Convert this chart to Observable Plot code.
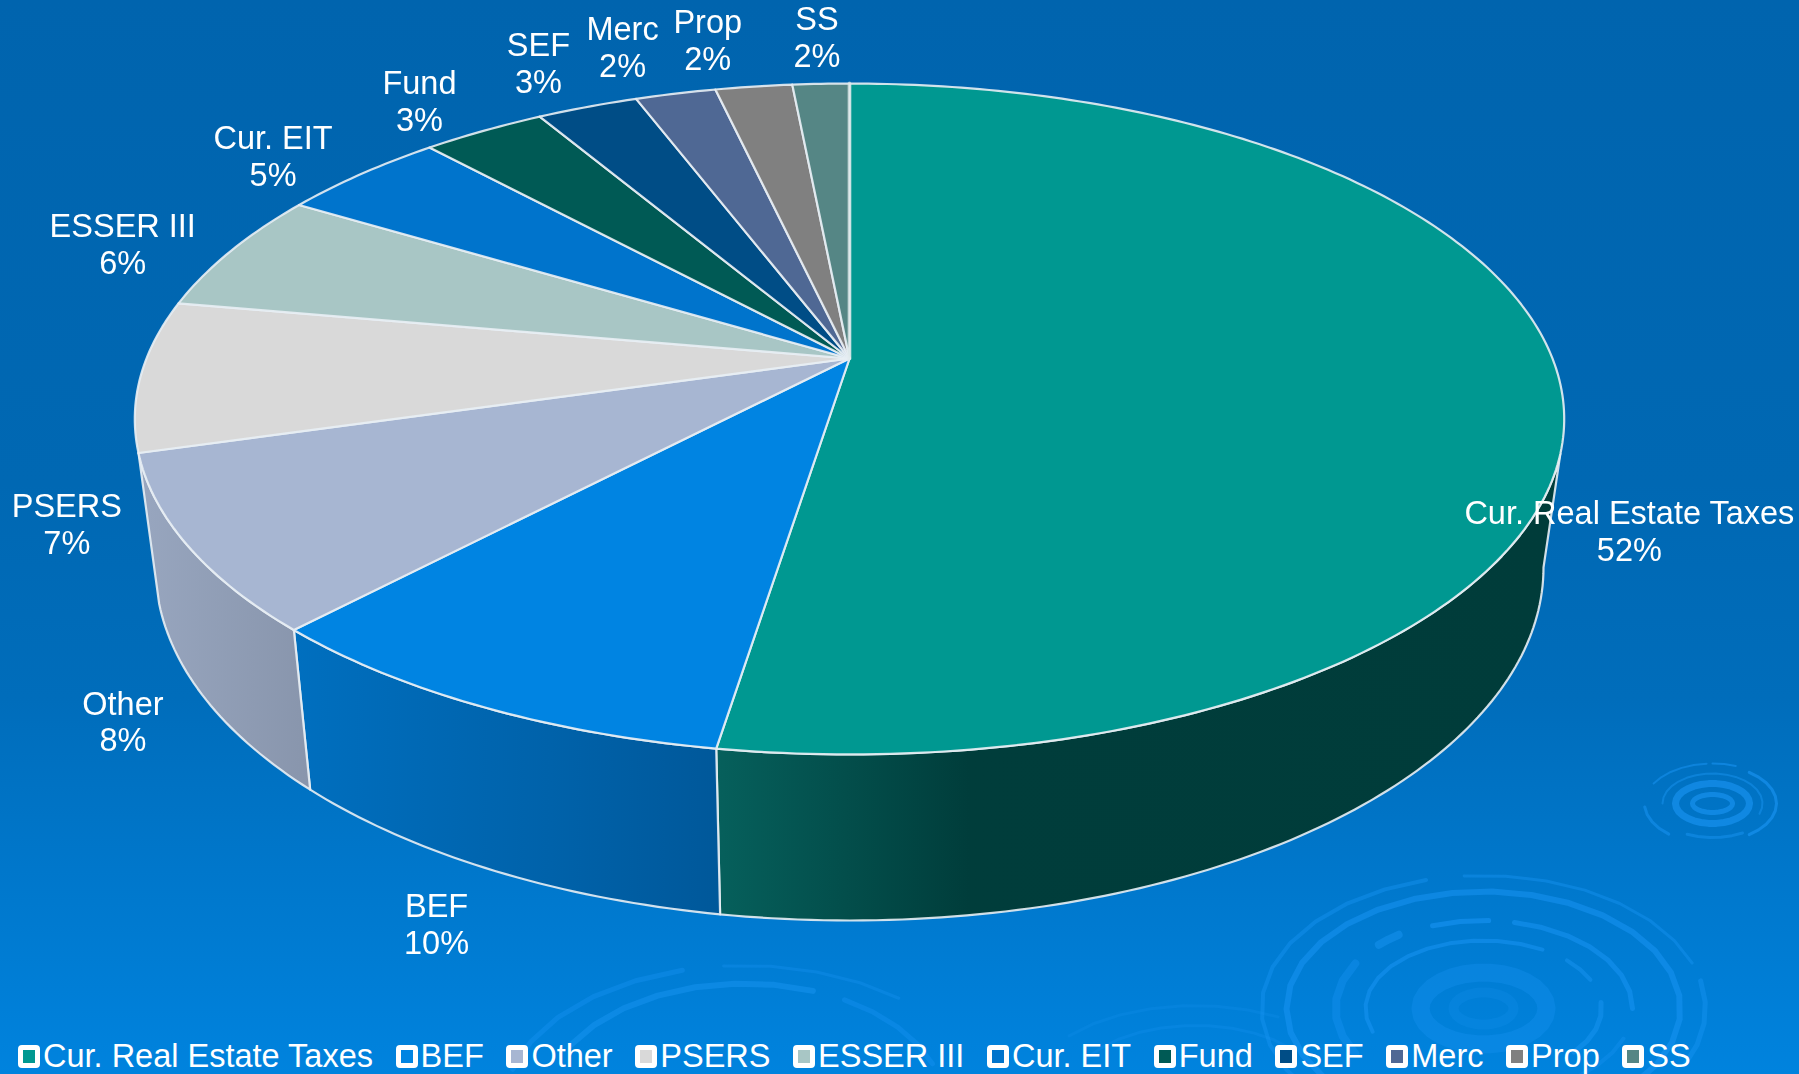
<!DOCTYPE html>
<html>
<head>
<meta charset="utf-8">
<script src="https://cdn.jsdelivr.net/npm/d3@7"></script>
<script src="https://cdn.jsdelivr.net/npm/@observablehq/plot@0.6"></script>
<style>
  html, body { margin: 0; padding: 0; background: #0070c0; }
  #wrap { position: relative; width: 1799px; height: 1074px; overflow: hidden; }
  #wrap svg { filter: blur(0.4px); }
  #legend { position: absolute; left: 18px; top: 1038px; display: flex; align-items: center; height: 36px;
    font: 32.5px "Liberation Sans", Arial, sans-serif; color: #fff; white-space: nowrap; }
  #legend .item { display: flex; align-items: center; margin-right: 22.6px; }
  #legend .sw { width: 12px; height: 13px; border: 5px solid #fff; border-radius: 4px; margin-right: 3px; }
</style>
</head>
<body>
<div id="wrap"></div>
<svg width="0" height="0" style="position:absolute">
  <defs id="grads"></defs>
</svg>
<script>
const categories = ["Cur. Real Estate Taxes","BEF","Other","PSERS","ESSER III","Cur. EIT","Fund","SEF","Merc","Prop","SS"];
const shares = [52.49, 9.56, 8.49, 7.26, 5.85, 4.52, 3.33, 2.73, 2.17, 2.07, 1.53];
const colors = ["#009891","#0084e2","#a7b6d2","#d9d9d9","#a8c6c5","#0074cc","#005a55","#004d86","#4f6894","#808080","#558685"];
const sideStops = [
  [[0,"#06605c"],[0.3,"#003d3b"],[1,"#003c3a"]],
  [[0,"#006fbf"],[0.6,"#0062aa"],[1,"#00589a"]],
  [[0,"#98a6bf"],[1,"#8895ac"]]
];
const labelOffsets = [[69,148],[-43,219],[-64,178],[-74,150],[-108,-6],[-88,-17],[-64,-29],[-49,-43],[-53,-45],[-46,-45],[-4,-46]];

// Projection of the tilted disc
const apex = {x: 849, y: 358}, persp = 0.1803, spanY = 260, spanX = 703;
const topEll = {cx: 849, cy: 418, rx: 715, ry: 336};
const botEll = {cx: 849, cy: 567, rx: 694, ry: 353};
function rim(t) {
  const a = t / 100 * 2 * Math.PI, u = Math.sin(a), v = -Math.cos(a), w = 1 - persp * v;
  return {x: apex.x + spanX * u / w, y: (apex.y + spanY * v) / w};
}
function lower(p) {
  const phi = Math.atan2((p.y - topEll.cy) / topEll.ry, (p.x - topEll.cx) / topEll.rx);
  return {x: botEll.cx + botEll.rx * Math.cos(phi), y: botEll.cy + botEll.ry * Math.sin(phi), s: Math.sin(phi)};
}
const cum = [];
shares.reduce((acc, s, i) => (cum[i] = [acc, acc + s], acc + s), 0);

const wedges = [];
const sides = [[], [], []];
categories.forEach((name, i) => {
  const [a, b] = cum[i];
  const n = Math.max(8, Math.ceil((b - a) * 4));
  const arc = d3.range(n + 1).map(k => rim(a + (b - a) * k / n));
  const poly = [apex, ...arc, apex];
  poly.forEach(p => wedges.push({name, x: p.x, y: p.y}));
  if (i < 3) {
    const vis = arc.filter(p => lower(p).s >= 0.095);
    const back = vis.slice().reverse().map(lower);
    // the far-right silhouette runs on along the lower rim before it meets the top rim
    const tail = i === 0
      ? d3.range(1, 7).map(k => {
          const phi = Math.asin(back[back.length - 1].s) * (1 - k / 6);
          return {x: botEll.cx + botEll.rx * Math.cos(phi), y: botEll.cy + botEll.ry * Math.sin(phi)};
        })
      : [];
    [...vis, ...back, ...tail, vis[0]].forEach(p => sides[i].push({x: p.x, y: p.y}));
  }
});
const labels = categories.map((name, i) => {
  const m = rim((cum[i][0] + cum[i][1]) / 2);
  return {text: `${name}\n${Math.round(shares[i])}%`, x: m.x + labelOffsets[i][0], y: m.y + labelOffsets[i][1] - 1.5};
});
const seam = [apex, rim(0)];

// Decorative water ripples of the slide background
const ripples = [
  // cx, cy, rx, ry, from°, to°, width, opacity
  [1483,1008,222,133,-95,-20,3,.4],[1483,1008,222,133,-230,-105,4,.4],[1483,1008,222,133,-12,25,5,.4],
  [1483,1008,197,117,-215,40,6,.5],
  [1483,1008,149,88,-110,-88,5,.55],[1483,1008,149,88,-78,0,5,.5],[1483,1008,149,88,20,60,4,.3],
  [1483,1008,118,68,-200,-60,4,.5],[1483,1008,118,68,-45,-25,4,.45],[1483,1008,118,68,-5,40,5,.45],
  [1483,1008,148,90,-210,-150,8,.35],[1483,1008,148,90,-135,-125,8,.45],
  [1483,1008,63,36,0,360,18,.3],[1483,1008,30,16,0,360,10,.18],
  [1712,803,37,20,0,360,7,.6],[1712,803,20,9,0,360,5,.6],[1712,803,50,30,-180,20,2,.45],
  [1712,803,68,40,-150,-95,2,.5],[1712,803,68,40,-90,-70,2,.55],[1712,803,64,38,-55,55,3,.6],[1712,803,68,40,130,175,3,.5],[1712,803,60,34,60,115,3,.45],
  [744,1105,240,140,-165,-105,5,.35],[744,1105,240,140,-95,-50,3,.3],[744,1105,200,122,-150,-70,6,.45],[744,1105,200,122,-60,-20,5,.35],
  [1195,1090,125,65,-150,-40,3,.22],[1195,1090,165,85,-140,-60,3,.18]
];
const rippleLines = [];
ripples.forEach(([cx,cy,rx,ry,a,b,w,o], id) => {
  const n = Math.max(2, Math.ceil((b - a) / 12));
  d3.range(n + 1).forEach(k => {
    const t = (a + (b - a) * k / n) * Math.PI / 180;
    rippleLines.push({id, x: cx + rx * Math.cos(t), y: cy + ry * Math.sin(t), w, o});
  });
});

// Gradients for the extruded side
const defs = d3.select("#grads");
sideStops.forEach((stops, i) => {
  const g = defs.append("linearGradient").attr("id", "side" + i);
  stops.forEach(([o, c]) => g.append("stop").attr("offset", o).attr("stop-color", c));
});

const edge = {stroke: "#e8eef4", strokeOpacity: 0.9, strokeWidth: 2.2, strokeLinejoin: "round"};
const chart = Plot.plot({
  width: 1799, height: 1074, margin: 0,
  style: {background: "linear-gradient(180deg,#0064ae 0%,#0068b3 45%,#006dbb 65%,#0083de 100%)"},
  x: {domain: [0, 1799], range: [0, 1799], axis: null},
  y: {domain: [0, 1074], range: [0, 1074], axis: null},
  color: {domain: categories, range: colors},
  marks: [
    ...d3.groups(rippleLines, d => d.id).map(([, pts]) =>
      Plot.line(pts, {x: "x", y: "y", stroke: "#1a96f5", strokeWidth: pts[0].w, strokeOpacity: pts[0].o, curve: "linear"})),
    ...sides.map((pts, i) => Plot.line(pts, {x: "x", y: "y", fill: `url(#side${i})`, ...edge})),
    Plot.line(wedges, {x: "x", y: "y", z: "name", fill: "name", ...edge}),
    Plot.line(seam, {x: "x", y: "y", stroke: "#dfe9ea", strokeOpacity: 0.55, strokeWidth: 4}),
    Plot.text(labels, {x: "x", y: "y", text: "text", fill: "white", fontSize: 32.5, lineHeight: 1.135,
      fontFamily: "Liberation Sans, Arial, sans-serif", textAnchor: "middle", lineAnchor: "middle"})
  ]
});
const wrap = document.getElementById("wrap");
wrap.appendChild(chart);

const legend = d3.select(wrap).append("div").attr("id", "legend");
categories.forEach((name, i) => {
  const it = legend.append("div").attr("class", "item");
  it.append("span").attr("class", "sw").style("background", colors[i]);
  it.append("span").text(name);
});
</script>
</body>
</html>
